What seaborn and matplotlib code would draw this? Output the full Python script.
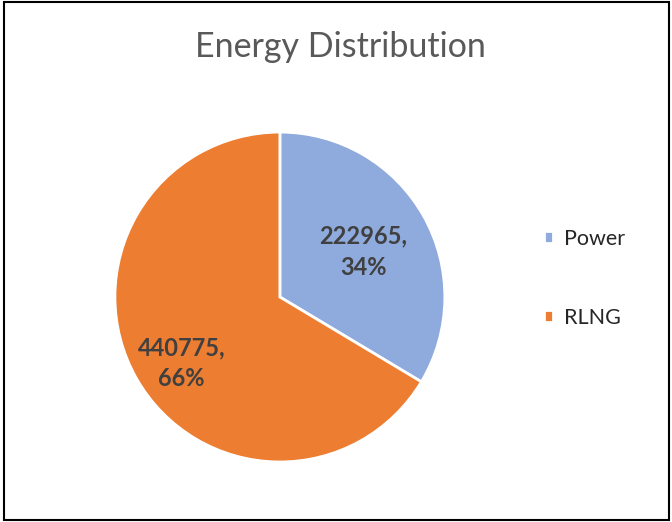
import numpy as np
import matplotlib
matplotlib.use('Agg')
import matplotlib.pyplot as plt
import seaborn as sns
from matplotlib.patches import Rectangle

sns.set_theme(style='white')
plt.rcParams['font.family'] = ['Lato', 'DejaVu Sans']

labels = ['Power', 'RLNG']
values = [222965, 440775]
colors = ['#8FAADC', '#ED7D31']

fig = plt.figure(figsize=(6.72, 5.22), dpi=100)
ax = fig.add_axes([0.171, 0.115, 0.491, 0.632])

total = sum(values)
wedges, texts, autotexts = ax.pie(
    values, colors=colors, startangle=90, counterclock=False,
    autopct=lambda p: '{:.0f},\n{:.0f}%'.format(p * total / 100, p),
    wedgeprops={'edgecolor': 'white', 'linewidth': 2},
    textprops={'fontsize': 17, 'fontweight': 'bold', 'color': '#404040'})
ax.set_xlim(-1, 1)
ax.set_ylim(-1, 1)

# excel "best fit" label placement: distance and angle nudge per wedge
dist = [0.575, 0.72]
nudge = [-1, 4.5]
for w, t, d, a in zip(wedges, autotexts, dist, nudge):
    ang = np.deg2rad((w.theta1 + w.theta2) / 2 + a)
    t.set_position((d * np.cos(ang), d * np.sin(ang)))
    t.set_linespacing(1.4)

fig.text(0.506, 0.91, 'Energy Distribution', ha='center', va='center',
         fontsize=24.5, color='#595959')

fig.legend(wedges, labels, loc='center left', bbox_to_anchor=(0.809, 0.467),
           frameon=False, fontsize=15.5, handlelength=0.45, handleheight=0.45,
           handletextpad=0.5, labelspacing=2.75, borderpad=0, borderaxespad=0)

fig.patches.append(Rectangle((0.006, 0.004), 0.99, 0.992, transform=fig.transFigure,
                             fill=False, edgecolor='black', linewidth=1.5))

fig.savefig('out.png', dpi=100)
